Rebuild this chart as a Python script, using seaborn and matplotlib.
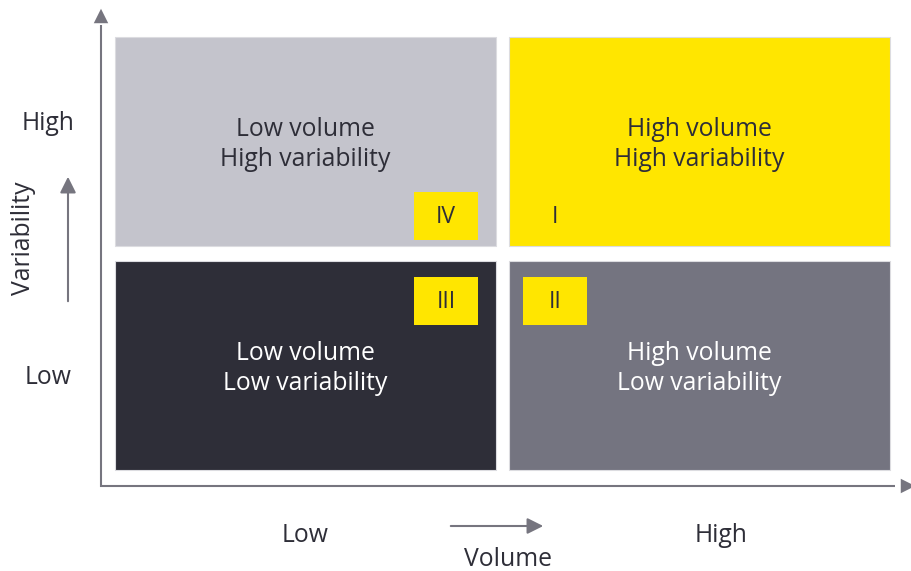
import matplotlib
matplotlib.use("Agg")
import matplotlib.pyplot as plt
from matplotlib.patches import Rectangle, FancyArrowPatch
import seaborn as sns

sns.set_theme(style="white")
plt.rcParams["font.family"] = ["Open Sans", "DejaVu Sans"]

# Quadrant data: volume level, variability level, roman numeral, colours
volume = ["Low", "High", "Low", "High"]
variability = ["High", "High", "Low", "Low"]
numerals = ["IV", "I", "III", "II"]
tile_colors = ["#c4c4cc", "#ffe600", "#2e2e38", "#747480"]
text_colors = ["#2e2e38", "#2e2e38", "#ffffff", "#ffffff"]
badge_colors = ["#ffe600", None, "#ffe600", "#ffe600"]

axis_levels = ["Low", "High"]
x_title = "Volume"
y_title = "Variability"

W, H = 911, 571
fig = plt.figure(figsize=(W / 100, H / 100), dpi=100)
ax = fig.add_axes([0, 0, 1, 1])
ax.set_xlim(0, W)
ax.set_ylim(H, 0)
ax.axis("off")

grey = "#76757f"
dark = "#2e2e38"
fs = 17.8

# tile geometry (layout, in figure pixels)
col_x = {"Low": 115, "High": 509}
row_y = {"High": 37, "Low": 261}
tw, th = 381, 209

for vol, var, num, fc, tc, bc in zip(volume, variability, numerals,
                                     tile_colors, text_colors, badge_colors):
    x0, y0 = col_x[vol], row_y[var]
    ax.add_patch(Rectangle((x0, y0), tw, th, facecolor=fc,
                           edgecolor="#dcdce0", linewidth=0.8))
    cx = x0 + tw / 2
    ax.text(cx, y0 + 92, f"{vol} volume", ha="center", va="center",
            color=tc, fontsize=fs)
    ax.text(cx, y0 + 123, f"{var} variability", ha="center", va="center",
            color=tc, fontsize=fs)
    # roman numeral badge
    bx = x0 + tw - 82 if vol == "Low" else x0 + 14
    by = y0 + 155 if var == "High" else y0 + 16
    if bc is not None:
        ax.add_patch(Rectangle((bx, by), 64, 48, facecolor=bc, edgecolor="none"))
    ax.text(bx + 32, by + 25, num, ha="center", va="center",
            color=dark, fontsize=16.5)

# main axes with arrowheads
ax.plot([101, 101], [487, 25], color=grey, lw=1.5, solid_capstyle="butt")
ax.add_patch(FancyArrowPatch((101, 30), (101, 6), arrowstyle="-|>",
                             mutation_scale=26, color=grey, lw=0))
ax.plot([100, 895], [486, 486], color=grey, lw=1.5, solid_capstyle="butt")
ax.add_patch(FancyArrowPatch((890, 486), (918, 486), arrowstyle="-|>",
                             mutation_scale=26, color=grey, lw=0))

# small direction arrows
ax.add_patch(FancyArrowPatch((68, 304), (68, 174), arrowstyle="-|>",
                             mutation_scale=24, color=grey, lw=1.5))
ax.add_patch(FancyArrowPatch((448, 526), (546, 526), arrowstyle="-|>",
                             mutation_scale=24, color=grey, lw=1.5))

# axis level labels
ax.text(48, 124, axis_levels[1], ha="center", va="center", color=dark, fontsize=fs)
ax.text(48, 378, axis_levels[0], ha="center", va="center", color=dark, fontsize=fs)
ax.text(305, 535, axis_levels[0], ha="center", va="center", color=dark, fontsize=fs)
ax.text(721, 535, axis_levels[1], ha="center", va="center", color=dark, fontsize=fs)
ax.text(508, 559, x_title, ha="center", va="center", color=dark, fontsize=fs)
ax.text(24, 238, y_title, ha="center", va="center", color=dark, fontsize=fs,
        rotation=90)

fig.savefig("out.png", dpi=100)
